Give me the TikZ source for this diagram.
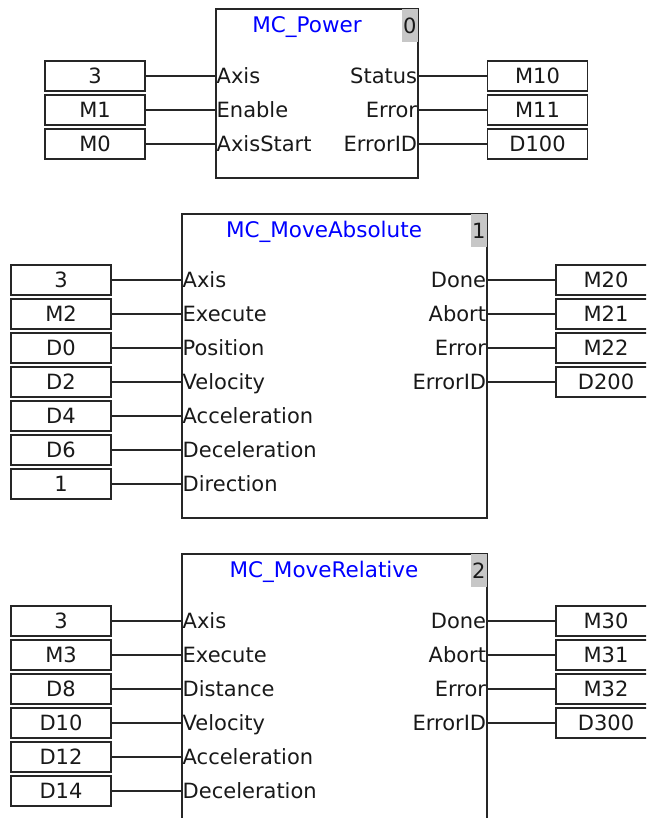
\documentclass[tikz,border=0pt]{standalone}
\usepackage{fontspec}
\setmainfont{DejaVu Sans}
\usetikzlibrary{positioning}
\begin{document}
\begin{tikzpicture}[x=1pt,y=-1pt,
        every node/.style={font=\fontsize{21}{24}\selectfont, text=black!90, text height=17pt, text depth=2pt},
        pinbox/.style={draw=black!85, line width=1.6pt, minimum width=100pt, minimum height=30pt, inner sep=0pt},
        fbox/.style={draw=black!85, line width=1.8pt, anchor=north west, inner sep=0pt},
        lbl/.style={inner sep=1.5pt},
        ttl/.style={text=blue, font=\fontsize{21.5}{24}\selectfont},
        idx/.style={fill=black!22, minimum width=16pt, minimum height=33pt, anchor=north east, inner sep=0pt},
        wire/.style={draw=black!85, line width=1.6pt}]
        \clip (0,0) rectangle (646,818);
        \def\pitch{34}
        % MC_Power
        \node[fbox, minimum width=202pt, minimum height=169pt] (pw) at (215,8) {};
        \node[idx] (pwn) at ([xshift=-0.9pt,yshift=-0.9pt]pw.north east) {0};
        \node[ttl] (pwt) at (307,25) {MC\_Power};
        \foreach \v/\p [count=\i] in {3/Axis, M1/Enable, M0/AxisStart}
        {
        \node[pinbox] (pwi\i) at (95,42+\pitch*\i) {\v};
        \node[lbl, anchor=west] (pwl\i) at (pw.west |- pwi\i) {\p};
        \draw[wire] (pwi\i.east) -- (pwl\i.west);
        }
        \foreach \p/\v [count=\i] in {Status/M10, Error/M11, ErrorID/D100}
        {
        \node[pinbox] (pwo\i) at (537.5,42+\pitch*\i) {\v};
        \node[lbl, anchor=east] (pwr\i) at (pw.east |- pwo\i) {\p};
        \draw[wire] (pwr\i.east) -- (pwo\i.west);
        }
        % MC_MoveAbsolute
        \node[fbox, minimum width=305pt, minimum height=304pt] (ma) at (181,213) {};
        \node[idx] (man) at ([xshift=-0.9pt,yshift=-0.9pt]ma.north east) {1};
        \node[ttl] (mat) at (324,230) {MC\_MoveAbsolute};
        \foreach \v/\p [count=\i] in {3/Axis, M2/Execute, D0/Position, D2/Velocity, D4/Acceleration, D6/Deceleration, 1/Direction}
        {
        \node[pinbox] (mai\i) at (61,246+\pitch*\i) {\v};
        \node[lbl, anchor=west] (mal\i) at (ma.west |- mai\i) {\p};
        \draw[wire] (mai\i.east) -- (mal\i.west);
        }
        \foreach \p/\v [count=\i] in {Done/M20, Abort/M21, Error/M22, ErrorID/D200}
        {
        \node[pinbox] (mao\i) at (606,246+\pitch*\i) {\v};
        \node[lbl, anchor=east] (mar\i) at (ma.east |- mao\i) {\p};
        \draw[wire] (mar\i.east) -- (mao\i.west);
        }
        % MC_MoveRelative
        \node[fbox, minimum width=305pt, minimum height=300pt] (mr) at (181,553) {};
        \node[idx] (mrn) at ([xshift=-0.9pt,yshift=-0.9pt]mr.north east) {2};
        \node[ttl] (mrt) at (324,570) {MC\_MoveRelative};
        \foreach \v/\p [count=\i] in {3/Axis, M3/Execute, D8/Distance, D10/Velocity, D12/Acceleration, D14/Deceleration}
        {
        \node[pinbox] (mri\i) at (61,587+\pitch*\i) {\v};
        \node[lbl, anchor=west] (mrl\i) at (mr.west |- mri\i) {\p};
        \draw[wire] (mri\i.east) -- (mrl\i.west);
        }
        \foreach \p/\v [count=\i] in {Done/M30, Abort/M31, Error/M32, ErrorID/D300}
        {
        \node[pinbox] (mro\i) at (606,587+\pitch*\i) {\v};
        \node[lbl, anchor=east] (mrr\i) at (mr.east |- mro\i) {\p};
        \draw[wire] (mrr\i.east) -- (mro\i.west);
        }
    \end{tikzpicture}
\end{document}
